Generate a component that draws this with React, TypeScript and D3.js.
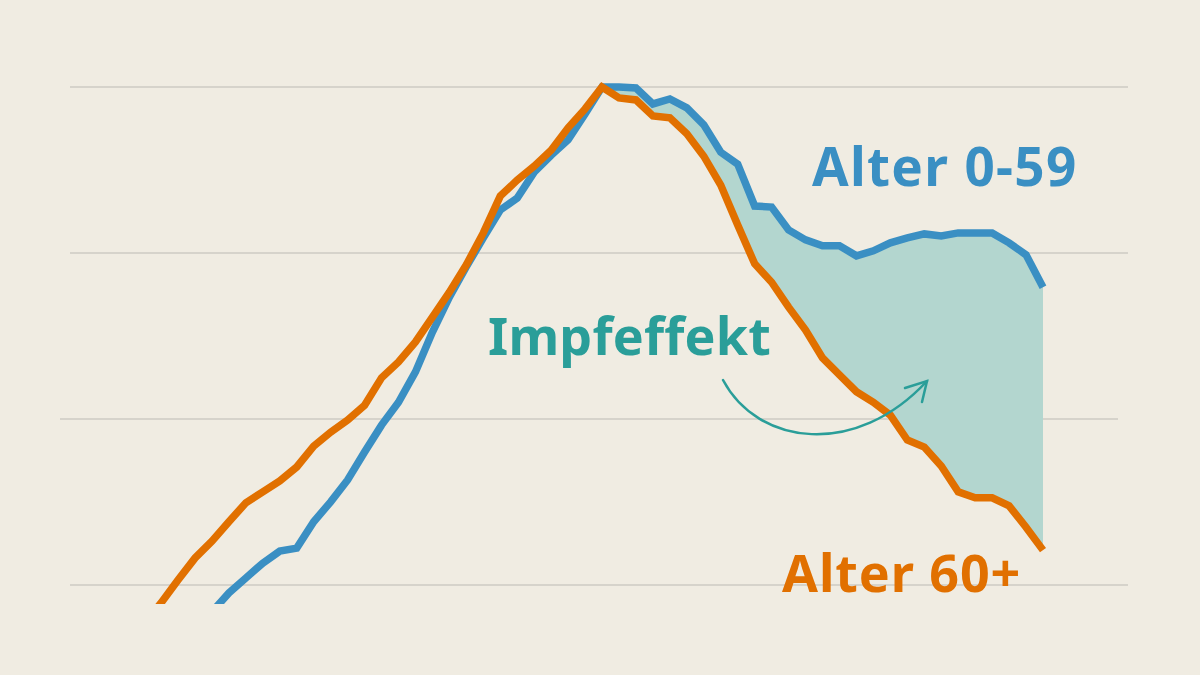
import React from 'react';
import * as d3 from 'd3';

// Index (peak = 100) by week
const weeks = d3.range(0, 54);

const alter60: number[] = [
  -7.8, -3.6, 1.0, 5.4, 8.8, 12.7, 16.5, 18.7, 20.9, 23.7,
  27.9, 30.7, 33.1, 36.1, 41.6, 44.8, 48.8, 53.8, 58.8, 64.3,
  70.7, 78.1, 81.3, 84.1, 87.3, 91.8, 95.6, 100, 97.8, 97.4,
  94.2, 93.8, 90.6, 86.1, 80.3, 72.3, 64.5, 60.8, 55.8, 51.2,
  45.6, 42.2, 38.8, 36.7, 34.1, 29.1, 27.7, 23.9, 18.7, 17.5,
  17.5, 15.9, 11.6, 7.0,
];

const alter0to59: (number | null)[] = [
  null, null, null, null, -5.4, -1.6, 1.4, 4.4, 6.8, 7.4,
  12.7, 16.7, 21.1, 26.7, 32.1, 36.7, 42.8, 50.8, 57.8, 63.9,
  69.7, 75.3, 77.7, 82.9, 86.3, 89.4, 94.6, 100, 100, 99.8,
  96.6, 97.6, 95.8, 92.4, 86.9, 84.5, 76.1, 75.9, 71.3, 69.3,
  68.1, 68.1, 66.1, 67.1, 68.7, 69.7, 70.5, 70.1, 70.7, 70.7,
  70.7, 68.7, 66.3, 59.8,
];

const gridValues = [0, 100 / 3, 200 / 3, 100];
const effectStart = 27; // shaded gap from the peak on

const W = 1200;
const H = 675;
const BG = '#f0ece2';
const ORANGE = '#e17000';
const BLUE = '#3a8fc3';
const TEAL = '#2a9e99';
const FONT = '"Noto Sans", "Open Sans", sans-serif';

const App = () => {
  const x = d3.scaleLinear().domain([0, 53]).range([144.1, 1043]);
  const y = d3.scaleLinear().domain([0, 100]).range([585, 87]);

  const lineOld = d3
    .line<number>()
    .x((d, i) => x(weeks[i]))
    .y((d) => y(d));

  const lineYoung = d3
    .line<number | null>()
    .defined((d) => d !== null)
    .x((d, i) => x(weeks[i]))
    .y((d) => y(d as number));

  const gap = d3
    .area<number>()
    .x((i) => x(i))
    .y0((i) => y(alter60[i]))
    .y1((i) => y(alter0to59[i] as number));

  const gapIdx = weeks.filter((i) => i >= effectStart);

  return (
    <svg
      width={W}
      height={H}
      style={{ position: 'absolute', left: 0, top: 0, display: 'block' }}
    >
      <defs>
        <clipPath id="plot">
          <rect x={0} y={0} width={W} height={604} />
        </clipPath>
      </defs>
      <rect width={W} height={H} fill={BG} />

      {gridValues.map((v, i) => (
        <line
          key={i}
          x1={i === 1 ? 60 : 70}
          x2={i === 1 ? 1118 : 1128}
          y1={y(v)}
          y2={y(v)}
          stroke="#d6d3cb"
          strokeWidth={2}
        />
      ))}

      <g clipPath="url(#plot)">
        <path d={gap(gapIdx) || ''} fill="#b3d6cf" />
        <path
          d={lineYoung(alter0to59) || ''}
          fill="none"
          stroke={BLUE}
          strokeWidth={7.5}
        />
        <path
          d={lineOld(alter60) || ''}
          fill="none"
          stroke={ORANGE}
          strokeWidth={7.5}
        />
      </g>

      {/* annotation arrow */}
      <g fill="none" stroke={TEAL} strokeWidth={2.5} strokeLinecap="round">
        <path d="M723,380 C758,446 856,458 927,381" />
        <path d="M905,388 L927,381 L922,402" strokeLinejoin="miter" />
      </g>

      <text
        x={812}
        y={186}
        fill={BLUE}
        fontFamily={FONT}
        fontWeight={700}
        fontSize={53}
        letterSpacing={1.3}
      >
        Alter 0-59
      </text>
      <text
        x={488}
        y={355}
        fill={TEAL}
        fontFamily={FONT}
        fontWeight={700}
        fontSize={52}
        letterSpacing={0.2}
      >
        Impfeffekt
      </text>
      <text
        x={782}
        y={592}
        fill={ORANGE}
        fontFamily={FONT}
        fontWeight={700}
        fontSize={52}
        letterSpacing={0.9}
      >
        Alter 60+
      </text>
    </svg>
  );
};

export default App;
